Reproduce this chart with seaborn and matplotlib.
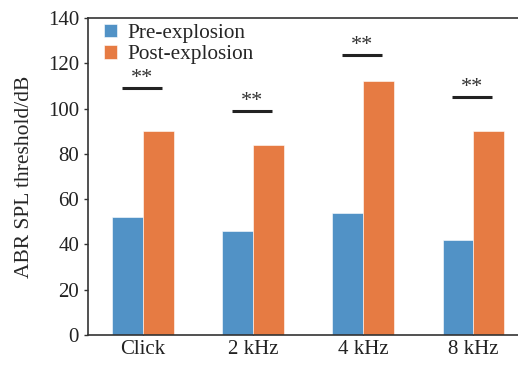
import pandas as pd
import seaborn as sns
import matplotlib.pyplot as plt

categories = ['Click', '2 kHz', '4 kHz', '8 kHz']
pre_values = [52, 46, 54, 42]
post_values = [90, 84, 112, 90]
sig_heights = [109, 99, 123.5, 105]
sig_labels = ['**', '**', '**', '**']

df = pd.DataFrame({
    'Condition': categories * 2,
    'Threshold': pre_values + post_values,
    'Group': ['Pre-explosion'] * 4 + ['Post-explosion'] * 4,
})

sns.set_style('white')
plt.rcParams['font.family'] = ['Liberation Serif', 'DejaVu Serif']
plt.rcParams['font.size'] = 15

my_palette = {'Pre-explosion': '#5192C6', 'Post-explosion': '#E67B43'}

fig = plt.figure(figsize=(5.18, 3.65), dpi=100)
ax = fig.add_axes([0.17, 0.082, 0.85, 0.869])

sns.barplot(data=df, x='Condition', y='Threshold', hue='Group', palette=my_palette,
            width=0.56, ax=ax, edgecolor='white', linewidth=0.4, saturation=1)

# significance bars
for i, (h, lab) in enumerate(zip(sig_heights, sig_labels)):
    ax.plot([i - 0.19, i + 0.17], [h, h], color='#222222', lw=2.2, solid_capstyle='butt')
    ax.text(i - 0.01, h + 0.1, lab, ha='center', va='bottom', fontsize=16, color='#333333')

ax.set_xlim(-0.5, 3.5)
ax.set_ylim(0, 140)
ax.set_yticks(range(0, 141, 20))
ax.set_xlabel('')
ax.set_ylabel('ABR SPL threshold/dB', fontsize=15.5, labelpad=10)

for s in ax.spines.values():
    s.set_color('#333333')
    s.set_linewidth(1.2)
ax.spines['right'].set_visible(False)

ax.tick_params(axis='y', which='major', direction='out', length=3, width=1, colors='#333333',
               labelcolor='#222222', labelsize=15, left=True)
ax.tick_params(axis='x', which='major', direction='in', length=3, width=1, colors='#333333',
               labelcolor='#222222', labelsize=15, bottom=True)

ax.legend(loc='upper left', frameon=False, fontsize=15.3, handlelength=0.6, handleheight=0.6,
          handletextpad=0.5, labelspacing=0.1, borderaxespad=0.1, bbox_to_anchor=(0.012, 1.015))

fig.savefig('out.png', dpi=100)
